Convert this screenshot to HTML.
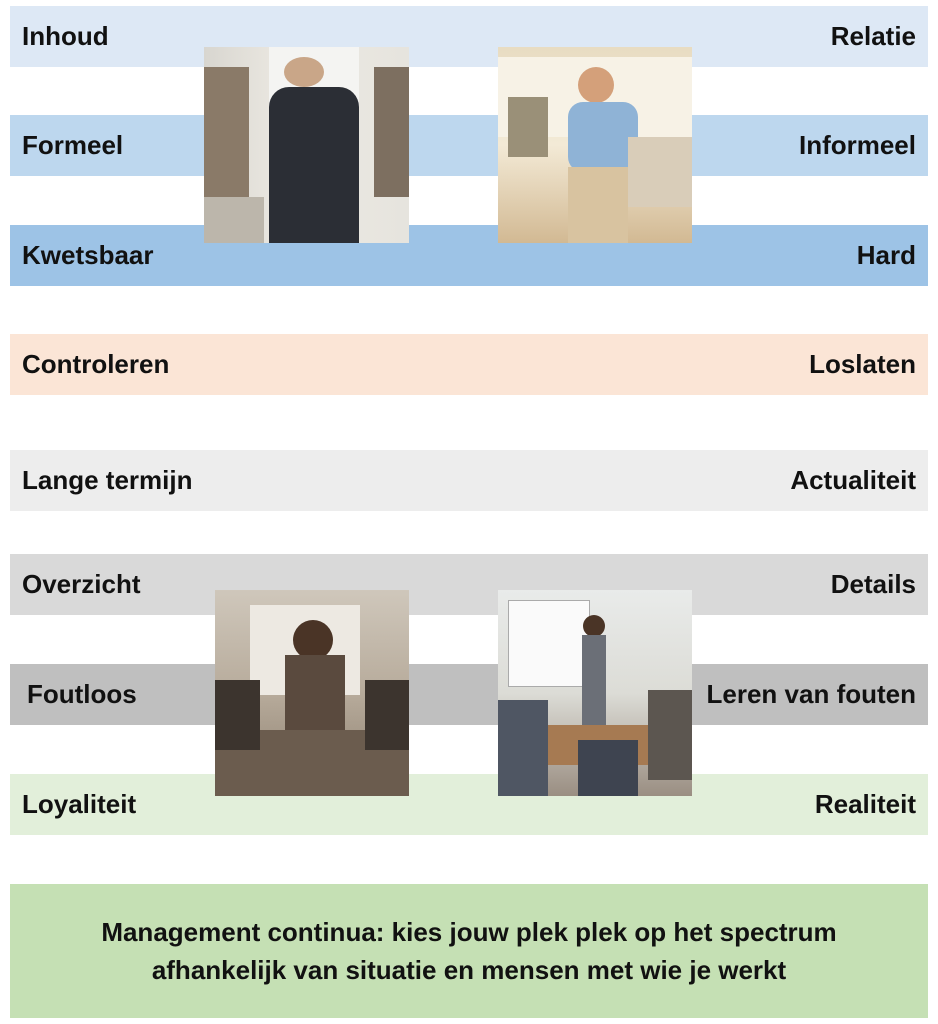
<!DOCTYPE html>
<html><head><style>
body{margin:0;width:938px;height:1024px;background:#fff;position:relative;overflow:hidden;font-family:"Liberation Sans",sans-serif;font-weight:bold;}
.b{position:absolute;left:10px;width:918px;height:61px;}
.l,.r{position:absolute;top:0;line-height:61px;font-size:26px;color:#111;}
.l{left:12px}.r{right:12px}
.img{position:absolute;overflow:hidden;}
</style></head><body>
<div class="b" style="top:6px;background:#dde8f5"><span class="l">Inhoud</span><span class="r">Relatie</span></div>
<div class="b" style="top:115px;background:#bdd7ee"><span class="l">Formeel</span><span class="r">Informeel</span></div>
<div class="b" style="top:225px;background:#9dc3e6"><span class="l">Kwetsbaar</span><span class="r">Hard</span></div>
<div class="b" style="top:334px;background:#fbe5d6"><span class="l">Controleren</span><span class="r">Loslaten</span></div>
<div class="b" style="top:450px;background:#ededed"><span class="l">Lange termijn</span><span class="r">Actualiteit</span></div>
<div class="b" style="top:554px;background:#d9d9d9"><span class="l">Overzicht</span><span class="r">Details</span></div>
<div class="b" style="top:664px;background:#bfbfbf"><span class="l" style="left:17px">Foutloos</span><span class="r">Leren van fouten</span></div>
<div class="b" style="top:774px;background:#e2efda"><span class="l">Loyaliteit</span><span class="r">Realiteit</span></div>
<div style="position:absolute;left:10px;top:884px;width:918px;height:134px;background:#c5e0b4;display:flex;align-items:center;justify-content:center;text-align:center;font-size:26px;line-height:38px;color:#111">Management continua: kies jouw plek plek op het spectrum<br>afhankelijk van situatie en mensen met wie je werkt</div>

<div class="img" style="left:204px;top:47px;width:205px;height:196px;background:linear-gradient(90deg,#d8d6d0 0,#ece9e2 40%,#e6e4de 100%)">
<div style="position:absolute;left:0;top:20px;width:45px;height:130px;background:#8a7a68"></div>
<div style="position:absolute;left:170px;top:20px;width:35px;height:130px;background:#7d6f60"></div>
<div style="position:absolute;left:65px;top:0;width:90px;height:110px;background:#f4f4f2"></div>
<div style="position:absolute;left:80px;top:10px;width:40px;height:30px;border-radius:50%;background:#c9a688"></div>
<div style="position:absolute;left:65px;top:40px;width:90px;height:156px;background:#2b2e35;border-radius:20px 20px 0 0"></div>
<div style="position:absolute;left:0;top:150px;width:60px;height:46px;background:#bcb6ab"></div>
</div>
<div class="img" style="left:498px;top:47px;width:194px;height:196px;background:linear-gradient(180deg,#e8dcc2 0,#f3ead6 50%,#d2b993 100%)">
<div style="position:absolute;left:0;top:10px;width:194px;height:80px;background:#f7f2e6"></div>
<div style="position:absolute;left:80px;top:20px;width:36px;height:36px;border-radius:50%;background:#d4a07a"></div>
<div style="position:absolute;left:70px;top:55px;width:70px;height:70px;background:#8fb3d6;border-radius:15px"></div>
<div style="position:absolute;left:70px;top:120px;width:60px;height:76px;background:#d8c3a0"></div>
<div style="position:absolute;left:130px;top:90px;width:64px;height:70px;background:#d9cdb9"></div>
<div style="position:absolute;left:10px;top:50px;width:40px;height:60px;background:#9a9078"></div>
</div>
<div class="img" style="left:215px;top:590px;width:194px;height:206px;background:linear-gradient(180deg,#cfc7bb 0,#b7ab9b 50%,#8c7e6e 100%)">
<div style="position:absolute;left:35px;top:15px;width:110px;height:90px;background:#ede9e2"></div>
<div style="position:absolute;left:78px;top:30px;width:40px;height:40px;border-radius:50%;background:#4a3426"></div>
<div style="position:absolute;left:70px;top:65px;width:60px;height:80px;background:#5a4a3e"></div>
<div style="position:absolute;left:0;top:140px;width:194px;height:66px;background:#6b5c4e"></div>
<div style="position:absolute;left:0;top:90px;width:45px;height:70px;background:#3c342e"></div>
<div style="position:absolute;left:150px;top:90px;width:44px;height:70px;background:#3c342e"></div>
</div>
<div class="img" style="left:498px;top:590px;width:194px;height:206px;background:linear-gradient(180deg,#e9ebea 0,#dcdcd6 50%,#9a8e82 100%)">
<div style="position:absolute;left:10px;top:10px;width:80px;height:85px;background:#fafafa;border:1px solid #aaa"></div>
<div style="position:absolute;left:85px;top:25px;width:22px;height:22px;border-radius:50%;background:#4a3426"></div>
<div style="position:absolute;left:84px;top:45px;width:24px;height:90px;background:#6b6f77"></div>
<div style="position:absolute;left:20px;top:135px;width:160px;height:40px;background:#a67a52"></div>
<div style="position:absolute;left:0;top:110px;width:50px;height:96px;background:#4f5663"></div>
<div style="position:absolute;left:80px;top:150px;width:60px;height:56px;background:#3e4450"></div>
<div style="position:absolute;left:150px;top:100px;width:44px;height:90px;background:#5c5650"></div>
</div>
</body></html>
